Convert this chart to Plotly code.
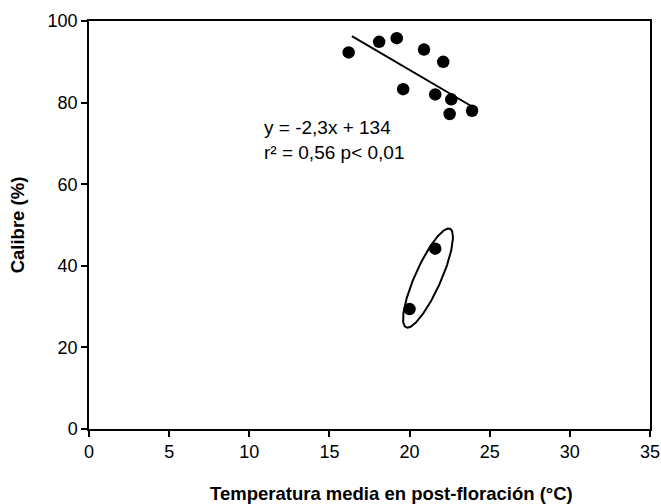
import numpy as np
import plotly.graph_objects as go

# Mean post-flowering temperature (°C) and calibre (%) per site
temp_main = [16.2, 18.1, 19.2, 20.9, 22.1, 19.6, 21.6, 22.6, 22.5, 23.9]
calibre_main = [92.3, 94.9, 95.8, 93.0, 90.0, 83.3, 82.0, 80.8, 77.2, 78.0]

# Outlying sites, circled separately
temp_out = [20.0, 21.6]
calibre_out = [29.4, 44.2]

# Fitted regression y = a*x + b
slope = -2.3
intercept = 134
fit_x = [16.4, 24.0]

x_ticks = [0, 5, 10, 15, 20, 25, 30, 35]
y_ticks = [0, 20, 40, 60, 80, 100]

W, H = 661, 504
margin = dict(l=89, r=11, t=21, b=75)
x_range = [0, 35]
y_range = [0, 100]

FONT = "Arial, Liberation Sans, sans-serif"

fig = go.Figure()

# regression line
fig.add_trace(go.Scatter(
    x=fit_x, y=[slope * v + intercept for v in fit_x],
    mode="lines", line=dict(color="black", width=2), showlegend=False,
))

fig.add_trace(go.Scatter(
    x=temp_main, y=calibre_main, mode="markers",
    marker=dict(color="black", size=12.5), showlegend=False,
))
fig.add_trace(go.Scatter(
    x=temp_out, y=calibre_out, mode="markers",
    marker=dict(color="black", size=12.5), showlegend=False,
))

# ellipse around the outlying pair, sized in screen pixels
px_per_x = (W - margin["l"] - margin["r"]) / (x_range[1] - x_range[0])
px_per_y = (H - margin["t"] - margin["b"]) / (y_range[1] - y_range[0])
cx, cy = 21.15, 37.0
a_px, b_px = 54, 13
ang = np.deg2rad(66)
t = np.linspace(0, 2 * np.pi, 200)
ex = a_px * np.cos(t) * np.cos(ang) - b_px * np.sin(t) * np.sin(ang)
ey = a_px * np.cos(t) * np.sin(ang) + b_px * np.sin(t) * np.cos(ang)
fig.add_trace(go.Scatter(
    x=cx + ex / px_per_x, y=cy + ey / px_per_y,
    mode="lines", line=dict(color="black", width=2), showlegend=False,
))

fig.add_annotation(
    x=10.8, y=73.8, xref="x", yref="y", xanchor="left", yanchor="middle",
    text="y = -2,3x + 134", showarrow=False,
    font=dict(family=FONT, size=19, color="black"),
)
fig.add_annotation(
    x=10.8, y=67.8, xref="x", yref="y", xanchor="left", yanchor="middle",
    text="r² = 0,56 p< 0,01", showarrow=False,
    font=dict(family=FONT, size=19, color="black"),
)

# x-axis title, set slightly right of centre
fig.add_annotation(
    x=0.54, y=-0.158, xref="paper", yref="paper",
    xanchor="center", yanchor="middle", showarrow=False,
    text="<b>Temperatura media en post-floración (°C)</b>",
    font=dict(family=FONT, size=18.5, color="black"),
)

axis_common = dict(
    showgrid=False, zeroline=False, showline=True, linecolor="black",
    linewidth=1.5, mirror=True, ticks="outside", ticklen=6, tickwidth=1.5,
    tickcolor="black", tickfont=dict(family=FONT, size=18, color="black"),
    automargin=False,
)

fig.update_xaxes(
    range=x_range, tickvals=x_ticks, ticktext=[str(v) for v in x_ticks],
    **axis_common,
)
fig.update_yaxes(
    range=y_range, tickvals=y_ticks, ticktext=[str(v) for v in y_ticks],
    title=dict(text="<b>Calibre (%)</b>",
               font=dict(family=FONT, size=18.5, color="black"), standoff=18),
    **axis_common,
)

fig.update_layout(
    width=W, height=H, margin=margin,
    paper_bgcolor="white", plot_bgcolor="white",
)

fig.write_html("out.html")
